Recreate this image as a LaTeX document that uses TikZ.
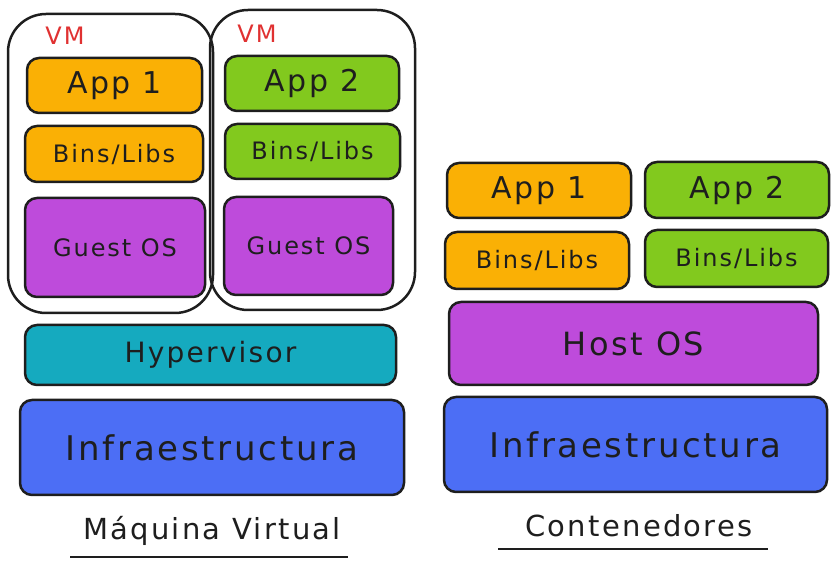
\documentclass[tikz,border=0pt]{standalone}
\usepackage{fontspec}
\setmainfont[LetterSpace=8]{DejaVu Sans}
\usetikzlibrary{positioning}
\definecolor{ink}{HTML}{1E1E1E}
\definecolor{apporange}{HTML}{FAB005}
\definecolor{appgreen}{HTML}{82C91E}
\definecolor{ospurple}{HTML}{BE4BDB}
\definecolor{hypcyan}{HTML}{15AABF}
\definecolor{infrablue}{HTML}{4C6EF5}
\definecolor{vmred}{HTML}{E03131}
\begin{document}
\begin{tikzpicture}[x=1pt, y=-1pt,
        layer/.style={rectangle, draw=ink, line width=2.5pt, rounded corners=12pt, inner sep=0pt, text=ink},
        vmbox/.style={rectangle, draw=ink, line width=2.5pt, rounded corners=38pt, inner sep=0pt},
        apptext/.style={font=\fontsize{30}{32}\selectfont},
        infratext/.style={font=\fontsize{34}{36}\selectfont},
        hosttext/.style={font=\fontsize{32}{34}\selectfont},
        hyptext/.style={font=\fontsize{28}{30}\selectfont},
        smalltext/.style={font=\fontsize{24}{26}\selectfont},
        vmlabel/.style={text=vmred, font=\fontsize{24}{26}\selectfont},
        title/.style={text=ink, font=\fontsize{29}{31}\selectfont},
      ]
      \useasboundingbox (0,0) rectangle (839,569);
      % Nodes

      % virtual machines
      \node[vmbox, minimum width=205pt, minimum height=299pt] (vm_left) at (110.5,163.5) {};
      \node[vmbox, minimum width=205pt, minimum height=300pt] (vm_right) at (312.5,160) {};
      \node[vmlabel] (vm_left_label) at (65,36) {VM};
      \node[vmlabel] (vm_right_label) at (257,34) {VM};

      \node[layer, fill=apporange, apptext, minimum width=175pt, minimum height=55pt] (vm_app1) at (114.5,85.5) {App 1};
      \node[layer, fill=apporange, smalltext, minimum width=178pt, minimum height=56pt] (vm_bins1) at (114,154) {Bins/Libs};
      \node[layer, fill=ospurple, smalltext, minimum width=180pt, minimum height=99pt] (vm_guest1) at (115,247.5) {Guest OS};

      \node[layer, fill=appgreen, apptext, minimum width=174pt, minimum height=55pt] (vm_app2) at (312,83.5) {App 2};
      \node[layer, fill=appgreen, smalltext, minimum width=175pt, minimum height=55pt] (vm_bins2) at (312.5,151.5) {Bins/Libs};
      \node[layer, fill=ospurple, smalltext, minimum width=169pt, minimum height=98pt] (vm_guest2) at (308.5,246) {Guest OS};

      \node[layer, fill=hypcyan, hyptext, minimum width=371pt, minimum height=60pt] (hypervisor) at (210.5,355) {Hypervisor};
      \node[layer, fill=infrablue, infratext, minimum width=384pt, minimum height=95pt] (vm_infra) at (212,447.5) {Infraestructura};

      % containers
      \node[layer, fill=apporange, apptext, minimum width=184pt, minimum height=55pt] (ct_app1) at (539,190.5) {App 1};
      \node[layer, fill=appgreen, apptext, minimum width=184pt, minimum height=56pt] (ct_app2) at (737,190) {App 2};
      \node[layer, fill=apporange, smalltext, minimum width=184pt, minimum height=57pt] (ct_bins1) at (537,260.5) {Bins/Libs};
      \node[layer, fill=appgreen, smalltext, minimum width=183pt, minimum height=57pt] (ct_bins2) at (736.5,258.5) {Bins/Libs};
      \node[layer, fill=ospurple, hosttext, minimum width=369pt, minimum height=83pt] (host_os) at (633.5,343.5) {Host OS};
      \node[layer, fill=infrablue, infratext, minimum width=383pt, minimum height=95pt] (ct_infra) at (635.5,444.5) {Infraestructura};

      % titles
      \node[title] (vm_title) at (212,531) {Máquina Virtual};
      \node[title] (ct_title) at (639,526) {Contenedores};
      \coordinate (vm_line_a) at (70,557);
      \coordinate (vm_line_b) at (348,557);
      \coordinate (ct_line_a) at (498,549);
      \coordinate (ct_line_b) at (768,549);

      % Lines
      \draw[ink, line width=2.5pt] (vm_line_a) -- (vm_line_b);
      \draw[ink, line width=2.5pt] (ct_line_a) -- (ct_line_b);
    \end{tikzpicture}
\end{document}
